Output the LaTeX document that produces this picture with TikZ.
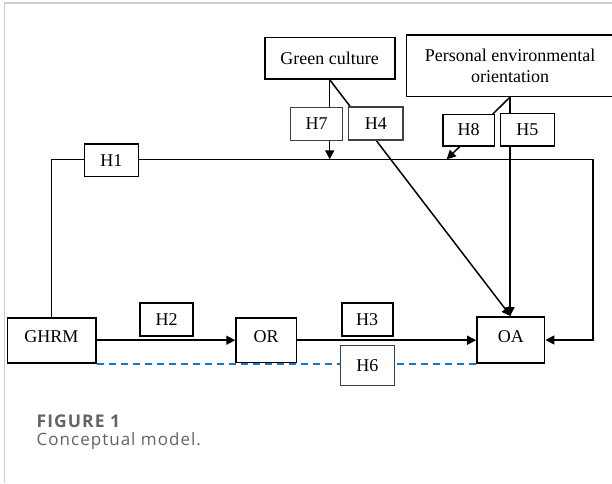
\documentclass[tikz,border=0pt]{standalone}
\usepackage{fontspec}
\setmainfont{Liberation Serif}
\newfontfamily\capfont[LetterSpace=6]{Open Sans}
\usetikzlibrary{arrows.meta}
\definecolor{dashblue}{HTML}{1A73D9}
\definecolor{capgray}{RGB}{100,100,100}
\definecolor{framegray}{RGB}{205,205,205}
\begin{document}
\begin{tikzpicture}[x=1pt,y=-1pt,
    font=\fontsize{18}{21}\selectfont,
    mainbox/.style={draw, line width=1.6pt, inner sep=0pt, fill=white},
    capsbox/.style={mainbox, text height=12pt, text depth=7pt},
    hyp/.style={draw, line width=1.6pt, fill=white, inner sep=0pt,
        minimum width=53pt, minimum height=33pt},
    hyplight/.style={hyp, draw=black!75, line width=1.1pt},
    conn/.style={line width=1.5pt},
    arr/.style={conn, -{Triangle[length=9pt,width=9pt]}},
    linkdash/.style={color=dashblue, line width=2pt, dash pattern=on 7pt off 5pt}]
    \useasboundingbox (0,0) rectangle (612,483);
    % Card frame
    \draw[framegray, line width=1.5pt] (4.7,483) -- (4.7,3) -- (612,3);
    % Constructs
    \node[capsbox, minimum width=88.4pt, minimum height=45pt] (ghrm) at (51.5,340.2) {GHRM};
    \node[capsbox, minimum width=60.3pt, minimum height=44.3pt] (or) at (266.2,340.2) {OR};
    \node[capsbox, minimum width=67.7pt, minimum height=46pt] (oa) at (510.8,340) {OA};
    \node[mainbox, minimum width=130pt, minimum height=41.3pt] (gc) at (329.7,58.3) {Green culture};
    \node[mainbox, minimum width=207pt, minimum height=61.6pt, align=center] (peo) at (510,65.5)
        {Personal environmental\\orientation};
    % Turning points
    \coordinate (rt) at (593,159.3);
    \coordinate (m8) at (446.7,159.3);
    % Paths
    \draw[arr] (ghrm.north) |- (rt) |- (oa.east);
    \draw[arr] (ghrm.east) -- (or.west);
    \draw[arr] (or.east) -- (or.east -| oa.west);
    \draw[arr] (gc.south) -- (gc.south |- rt);
    \draw[arr] (gc.south) -- (oa.north);
    \draw[arr] (peo.south) -- (peo.south |- oa.north);
    \draw[arr] (peo.south) -- (m8);
    \draw[linkdash] (ghrm.south east) -- (ghrm.south east -| oa.south west);
    % Hypotheses
    \node[hyp, minimum width=54pt, minimum height=32.7pt] (h1) at (111.3,160.3) {H1};
    \node[hyp] (h2) at (166.7,319.5) {H2};
    \node[hyp, minimum width=51pt] (h3) at (367.2,319.5) {H3};
    \node[hyplight, minimum width=54.3pt] (h4) at (375.8,123.5) {H4};
    \node[hyp, minimum width=54pt, minimum height=32.4pt] (h5) at (527.3,129.5) {H5};
    \node[hyplight, minimum width=54pt, minimum height=39.7pt] (h6) at (367.3,365.2) {H6};
    \node[hyplight, minimum width=51.6pt, minimum height=33.7pt] (h7) at (316.5,124) {H7};
    \node[hyp, minimum width=51.3pt, minimum height=31.4pt] (h8) at (468.7,130) {H8};
    % Caption
    \node[anchor=base west, inner sep=0pt, text=capgray, font=\capfont\bfseries\fontsize{17.5}{18}\selectfont]
        (fig) at (36.5,427) {FIGURE 1};
    \node[anchor=base west, inner sep=0pt, text=capgray, font=\capfont\fontsize{17}{18}\selectfont]
        (cap) at (36.5,445.5) {Conceptual model.};
\end{tikzpicture}
\end{document}
